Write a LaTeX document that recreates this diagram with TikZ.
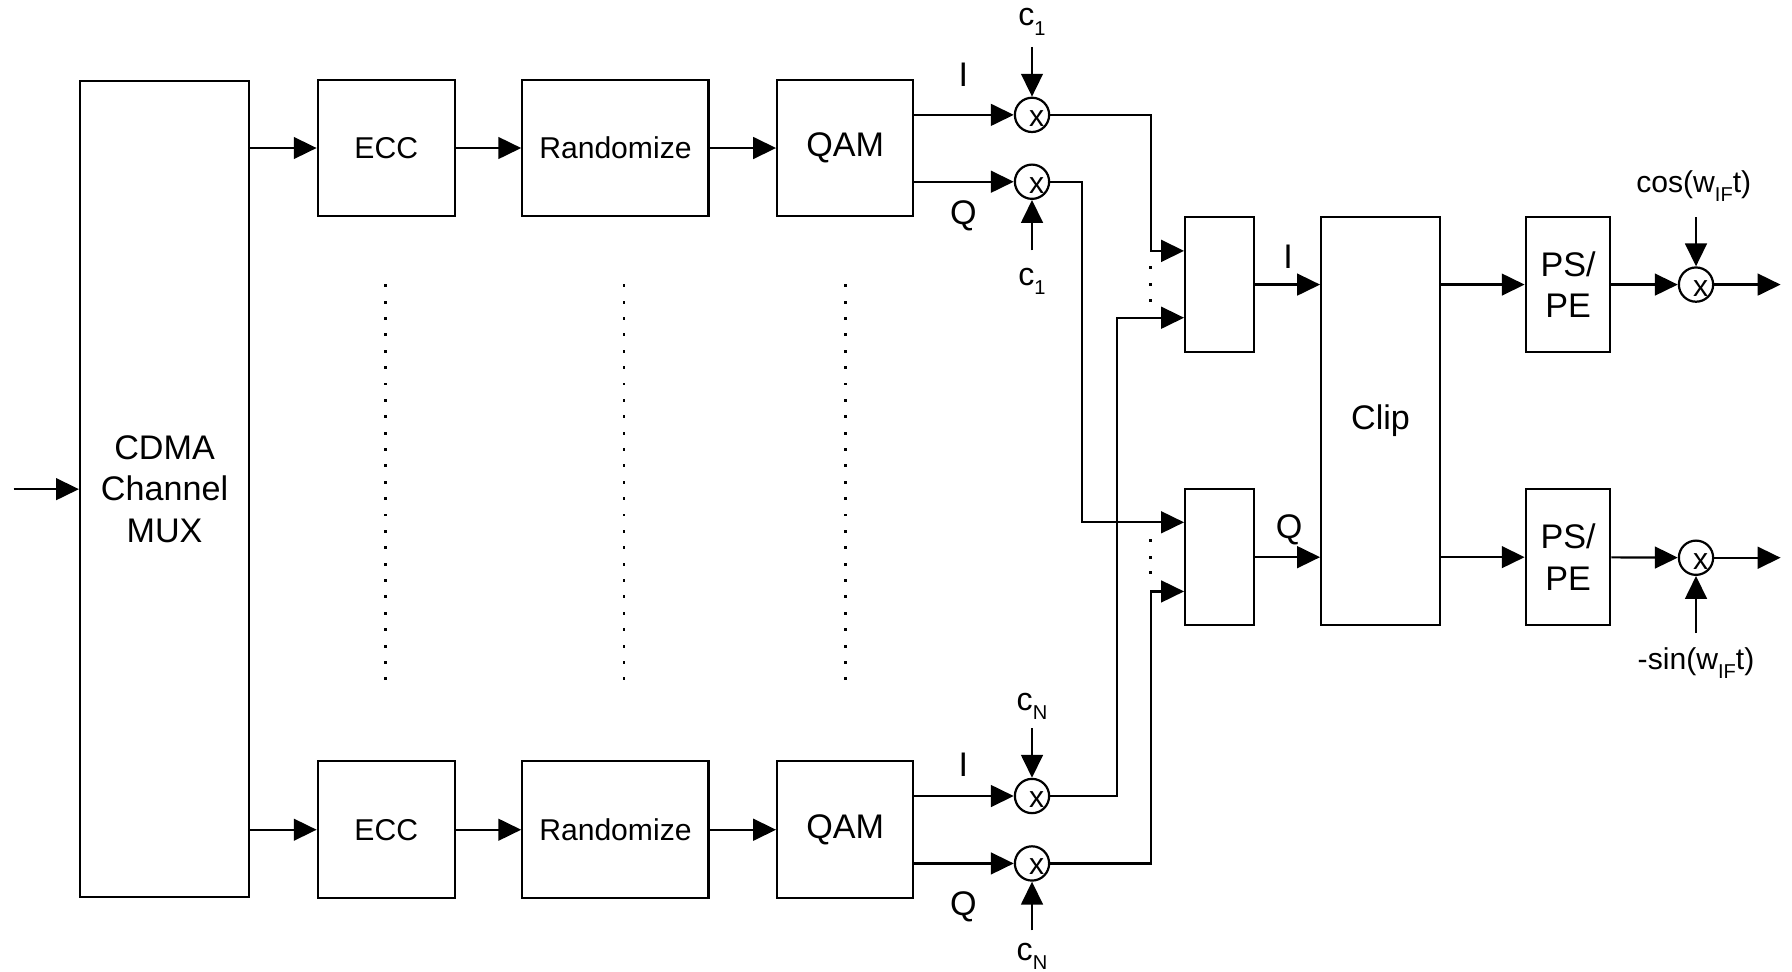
\documentclass[tikz,border=0pt]{standalone}
\usepackage{fontspec}
\setmainfont{Liberation Sans}
\usetikzlibrary{arrows.meta,calc}
\newcommand{\lo}[1]{\raisebox{-0.55ex}{\fontsize{10}{10}\selectfont #1}}
\newcommand{\mx}{\raisebox{-2.0mm}[0pt][0pt]{\hspace*{1.6mm}x}}
\begin{document}
\begin{tikzpicture}[x=0.02cm,y=-0.02cm,
  line width=1.1pt,
  blk/.style={draw, rectangle, inner sep=0pt, align=center, font=\fontsize{17}{20.5}\selectfont},
  blks/.style={blk, font=\fontsize{15}{18}\selectfont},
  mix/.style={draw, circle, minimum size=0.6cm, inner sep=0pt, font=\fontsize{15}{15}\selectfont},
  arr/.style={-{Triangle[length=0.4cm,width=0.38cm]}},
  lbl/.style={inner sep=0pt, font=\fontsize{17}{17}\selectfont},
  sig/.style={inner sep=0pt, font=\fontsize{16}{16}\selectfont},
  sigs/.style={inner sep=0pt, font=\fontsize{15}{15}\selectfont},
  dot/.style={fill=black}
]
\useasboundingbox (0,0) rectangle (1568,850);

% main blocks
\node[blk, minimum width=2.96cm, minimum height=14.28cm] (mux) at (144,428) {CDMA\\Channel\\MUX};
\node[blks, minimum width=2.4cm, minimum height=2.38cm] (ecc1) at (338,129.5) {ECC};
\node[blks, minimum width=3.26cm, minimum height=2.38cm] (rnd1) at (538.5,129.5) {Randomize};
\node[blk, minimum width=2.38cm, minimum height=2.38cm] (qam1) at (739.5,129.5) {QAM};
\node[blks, minimum width=2.4cm, minimum height=2.4cm] (eccN) at (338,726) {ECC};
\node[blks, minimum width=3.26cm, minimum height=2.4cm] (rndN) at (538.5,726) {Randomize};
\node[blk, minimum width=2.38cm, minimum height=2.4cm] (qamN) at (739.5,726) {QAM};

\node[blk, minimum width=1.2cm, minimum height=2.36cm] (comb1) at (1067,249) {};
\node[blk, minimum width=1.2cm, minimum height=2.38cm] (comb2) at (1067,487.5) {};
\node[blk, minimum width=2.08cm, minimum height=7.14cm] (clip) at (1208,368.5) {Clip};
\node[blk, minimum width=1.48cm, minimum height=2.36cm] (ps1) at (1372,249) {PS/\\PE};
\node[blk, minimum width=1.48cm, minimum height=2.38cm] (ps2) at (1372,487.5) {PS/\\PE};

% mixers
\node[mix] (m1I) at (903,100.5) {\mx};
\node[mix] (m1Q) at (903,159) {\mx};
\node[mix] (mNI) at (903,696.5) {\mx};
\node[mix] (mNQ) at (903,755.5) {\mx};
\node[mix] (mc) at (1484,249) {\mx};
\node[mix] (ms) at (1484,488) {\mx};

% labels
\node[lbl] (lI1) at (843,65) {I};
\node[lbl] (lQ1) at (843,189) {Q};
\node[lbl] (lIN) at (843,669) {I};
\node[lbl] (lQN) at (843,793) {Q};
\node[lbl] (lIc) at (1127,225) {I};
\node[lbl] (lQc) at (1128,464) {Q};
\node[sig] (c1t) at (903,19) {c\lo{1}};
\node[sig] (c1b) at (903,246) {c\lo{1}};
\node[sig] (cNt) at (903,618) {c\lo{N}};
\node[sig] (cNb) at (903,837) {c\lo{N}};
\node[sigs] (lcos) at (1482,163) {cos(w\lo{IF}t)};
\node[sigs] (lsin) at (1484,580) {-sin(w\lo{IF}t)};

% free ends
\coordinate (in) at (12,428);
\coordinate (a1) at (903,41);
\coordinate (a2) at (903,219);
\coordinate (a3) at (903,637);
\coordinate (a4) at (903,814);
\coordinate (a5) at (1484,190);
\coordinate (a6) at (1484,554);
\coordinate (o1) at (1558,249);
\coordinate (o2) at (1558,488);

% connectors
\draw[arr] (in) -- (mux);
\draw[arr] (mux.east |- ecc1) -- (ecc1);
\draw[arr] (ecc1) -- (rnd1);
\draw[arr] (rnd1) -- (qam1);
\draw[arr] (mux.east |- eccN) -- (eccN);
\draw[arr] (eccN) -- (rndN);
\draw[arr] (rndN) -- (qamN);

\draw[arr] (qam1.east |- m1I) -- (m1I);
\draw[arr] (qam1.east |- m1Q) -- (m1Q);
\draw[arr] (qamN.east |- mNI) -- (mNI);
\draw[arr] (qamN.east |- mNQ) -- (mNQ);

\draw[arr] (a1) -- (m1I);
\draw[arr] (a2) -- (m1Q);
\draw[arr] (a3) -- (mNI);
\draw[arr] (a4) -- (mNQ);

\draw[arr] (m1I) -- (1007,100.5) |- ([yshift=0.59cm]comb1.west);
\draw[arr] (m1Q) -- (947,159) |- ([yshift=0.61cm]comb2.west);
\draw[arr] (mNI) -- (977.5,696.5) |- ([yshift=-0.58cm]comb1.west);
\draw[arr] (mNQ) -- (1007,755.5) |- ([yshift=-0.60cm]comb2.west);

\draw[arr] (comb1) -- (clip.west |- comb1);
\draw[arr] (comb2) -- (clip.west |- comb2);
\draw[arr] (clip.east |- ps1) -- (ps1);
\draw[arr] (clip.east |- ps2) -- (ps2);
\draw[arr] (ps1) -- (mc);
\draw[arr] (ps2) -- (ms);
\draw[arr] (mc) -- (o1);
\draw[arr] (ms) -- (o2);
\draw[arr] (a5) -- (mc);
\draw[arr] (a6) -- (ms);

% dotted columns
\foreach \x in {337,546,740}{
  \foreach \i in {0,...,24}{
    \fill[dot] ({\x-1.3},{250+\i*14.33-1.3}) rectangle ++(2.6,2.6);
  }
}
% dots between combiner inputs
\foreach \y in {234,249,263,473,488,501}{
  \fill[dot] (1005.7,{\y-1.3}) rectangle ++(2.6,2.6);
}
\end{tikzpicture}
\end{document}
